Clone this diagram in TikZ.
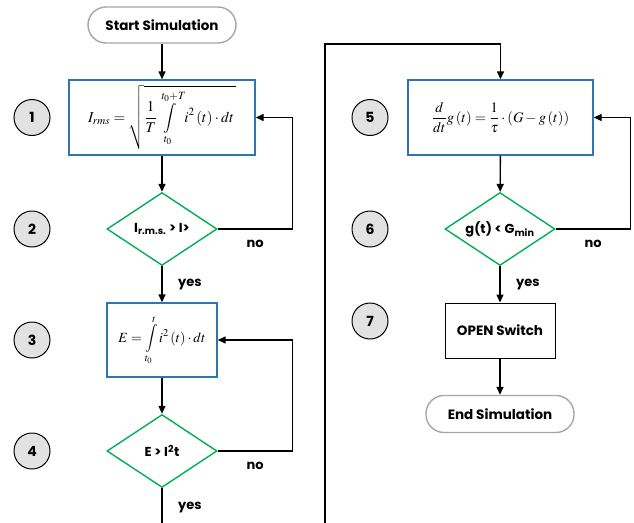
\documentclass[tikz,border=0pt]{standalone}
\usepackage{amsmath}
\usepackage{mathptmx}
\usepackage{fontspec}
\setmainfont{Poppins}
\usetikzlibrary{arrows.meta,shapes.geometric,positioning}
\definecolor{boxblue}{HTML}{2E75B6}
\definecolor{decgreen}{HTML}{00B050}
\definecolor{termgray}{HTML}{A6A6A6}
\definecolor{stepfill}{HTML}{E2E2E2}

\tikzset{
  terminal/.style={draw=termgray, line width=1.4pt, rounded corners=18pt,
    minimum width=148pt, minimum height=36pt, font=\bfseries\fontsize{13.5}{15}\selectfont},
  calcbox/.style={draw=boxblue, line width=1.4pt, inner sep=0pt},
  decision/.style={diamond, draw=decgreen, line width=1.4pt, aspect=1.5,
    minimum width=110pt, minimum height=73pt, inner sep=0pt,
    font=\bfseries\fontsize{13}{15}\selectfont},
  actbox/.style={draw, line width=1pt, minimum width=110pt, minimum height=55pt,
    font=\bfseries\fontsize{13.5}{15}\selectfont},
  stepnum/.style={circle, draw, line width=1pt, fill=stepfill, minimum size=36pt,
    inner sep=0pt, font=\bfseries\fontsize{14}{16}\selectfont},
  flow/.style={-{Triangle[length=8pt,width=7pt]}, line width=1.4pt},
  lbl/.style={font=\bfseries\fontsize{13}{15}\selectfont}
}

\begin{document}
\begin{tikzpicture}[x=1pt, y=-1pt]
  \useasboundingbox (0,0) rectangle (634,522);
  \clip (0,0) rectangle (634,522);

  % ---- Left column: rms check and energy ----
  \node[terminal] (start) at (162,25) {Start Simulation};
  \node[calcbox, minimum width=186pt, minimum height=75pt] (rms) at (162,117.5)
    {\fontsize{15}{17}\selectfont$I_{rms}=\sqrt{\dfrac{1}{T}\displaystyle\int\limits_{t_0}^{t_0+T} i^2\left(t\right)\cdot dt\,}$};
  \node[decision] (irms) at (162,229) {I\textsubscript{r.m.s.} > I>};
  \node[calcbox, minimum width=110pt, minimum height=74pt] (energy) at (162,340)
    {\fontsize{14}{16}\selectfont$E=\displaystyle\int\limits_{t_0}^{t} i^2\left(t\right)\cdot dt$};
  \node[decision] (ecmp) at (162,451) {E > I\textsuperscript{2}t};

  \node[stepnum] (n1) at (32,117.5) {1};
  \node[stepnum] (n2) at (32,229) {2};
  \node[stepnum] (n3) at (32,340) {3};
  \node[stepnum] (n4) at (32,451) {4};

  \draw[flow] (start) -- (rms);
  \draw[flow] (rms) -- (irms);
  \draw[flow] (irms.east) -- ++(75,0) node[lbl, midway, below=7pt] {no} |- (rms.east);
  \draw[flow] (irms.south) -- node[lbl, right=12pt] {yes} (energy.north);
  \draw[flow] (energy) -- (ecmp);
  \draw[flow] (ecmp.east) -- ++(75,0) node[lbl, midway, below=7pt] {no} |- (energy.east);

  % ---- Right column: filter and switch ----
  \coordinate (topturn) at (325,44);
  \node[calcbox, minimum width=185pt, minimum height=75pt] (filt) at (500.5,117.5)
    {\fontsize{14.5}{17}\selectfont$\dfrac{d}{dt}g\left(t\right)=\dfrac{1}{\tau}\cdot\left(G-g\left(t\right)\right)$};
  \node[decision] (gcmp) at (500,229) {g(t) < G\textsubscript{min}};
  \node[actbox] (open) at (500,330.5) {OPEN Switch};
  \node[terminal, minimum height=37pt] (stop) at (500,414) {End Simulation};

  \node[stepnum] (n5) at (370,117.5) {5};
  \node[stepnum] (n6) at (370,229) {6};
  \node[stepnum] (n7) at (370,321) {7};

  \draw[flow] (ecmp.south) -- ++(0,38) node[lbl, midway, right=12pt] {yes}
    -| (topturn) -| (filt.north);
  \draw[flow] (filt) -- (gcmp);
  \draw[flow] (gcmp.east) -- ++(75,0) node[lbl, midway, below=7pt] {no} |- (filt.east);
  \draw[flow] (gcmp.south) -- node[lbl, right=12pt] {yes} (open.north);
  \draw[flow] (open) -- (stop);
\end{tikzpicture}
\end{document}
